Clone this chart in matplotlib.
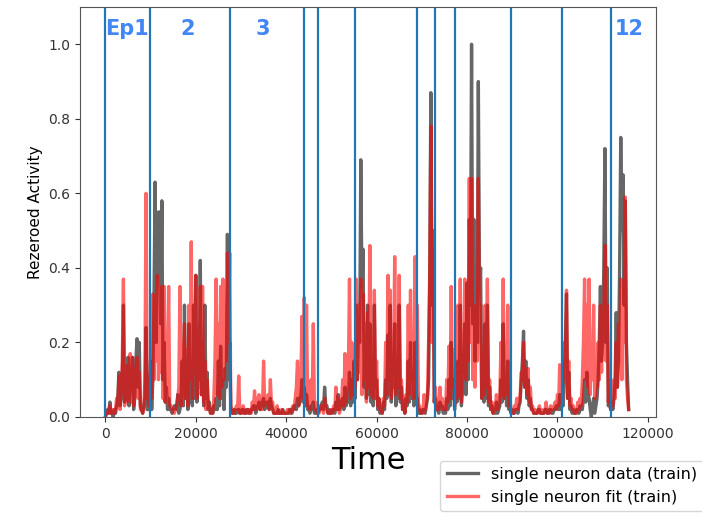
import matplotlib
matplotlib.use("Agg")
import matplotlib.pyplot as plt
import numpy as np

# activity sampled every 250 time steps, one row = 5000 steps
dt = 250
data_train = [
    0.00, 0.01, 0.02, 0.01, 0.04, 0.01, 0.01, 0.00, 0.02, 0.01, 0.03, 0.05, 0.12, 0.03, 0.05, 0.08, 0.30, 0.04, 0.05, 0.10,
    0.16, 0.03, 0.10, 0.12, 0.16, 0.02, 0.05, 0.15, 0.21, 0.08, 0.20, 0.03, 0.02, 0.01, 0.03, 0.05, 0.24, 0.02, 0.02, 0.05,
    0.15, 0.02, 0.10, 0.30, 0.63, 0.20, 0.45, 0.55, 0.55, 0.25, 0.58, 0.10, 0.20, 0.04, 0.08, 0.02, 0.05, 0.02, 0.02, 0.01,
    0.02, 0.03, 0.03, 0.02, 0.06, 0.01, 0.02, 0.05, 0.15, 0.03, 0.30, 0.05, 0.10, 0.02, 0.25, 0.04, 0.12, 0.03, 0.30, 0.05,
    0.38, 0.04, 0.15, 0.10, 0.42, 0.06, 0.20, 0.03, 0.30, 0.05, 0.12, 0.02, 0.04, 0.01, 0.02, 0.01, 0.03, 0.02, 0.05, 0.02,
    0.15, 0.03, 0.19, 0.05, 0.10, 0.02, 0.13, 0.08, 0.49, 0.10, 0.20, 0.02, 0.01, 0.01, 0.02, 0.01, 0.01, 0.02, 0.02, 0.01,
    0.01, 0.02, 0.02, 0.01, 0.01, 0.02, 0.02, 0.01, 0.01, 0.02, 0.02, 0.03, 0.03, 0.01, 0.02, 0.03, 0.04, 0.02, 0.03, 0.04,
    0.05, 0.02, 0.03, 0.04, 0.04, 0.02, 0.05, 0.03, 0.02, 0.01, 0.01, 0.01, 0.01, 0.02, 0.01, 0.01, 0.01, 0.02, 0.01, 0.01,
    0.01, 0.01, 0.01, 0.02, 0.02, 0.01, 0.02, 0.03, 0.03, 0.02, 0.05, 0.03, 0.04, 0.06, 0.10, 0.04, 0.08, 0.03, 0.06, 0.02,
    0.02, 0.01, 0.03, 0.02, 0.04, 0.01, 0.02, 0.01, 0.01, 0.02, 0.02, 0.03, 0.04, 0.02, 0.08, 0.03, 0.03, 0.01, 0.02, 0.01,
    0.01, 0.02, 0.02, 0.01, 0.04, 0.02, 0.06, 0.02, 0.03, 0.04, 0.05, 0.02, 0.08, 0.03, 0.05, 0.04, 0.12, 0.03, 0.10, 0.04,
    0.15, 0.05, 0.30, 0.10, 0.25, 0.20, 0.69, 0.35, 0.45, 0.08, 0.20, 0.05, 0.30, 0.06, 0.25, 0.04, 0.12, 0.03, 0.30, 0.05,
    0.10, 0.02, 0.05, 0.01, 0.02, 0.01, 0.04, 0.02, 0.10, 0.05, 0.22, 0.06, 0.30, 0.04, 0.10, 0.08, 0.25, 0.03, 0.12, 0.05,
    0.30, 0.04, 0.08, 0.02, 0.03, 0.01, 0.05, 0.03, 0.15, 0.04, 0.20, 0.05, 0.10, 0.03, 0.20, 0.06, 0.05, 0.01, 0.02, 0.01,
    0.01, 0.02, 0.02, 0.01, 0.03, 0.05, 0.10, 0.40, 0.87, 0.30, 0.50, 0.04, 0.05, 0.02, 0.02, 0.01, 0.04, 0.02, 0.03, 0.01,
    0.02, 0.01, 0.05, 0.02, 0.10, 0.03, 0.20, 0.05, 0.10, 0.02, 0.08, 0.04, 0.15, 0.05, 0.30, 0.03, 0.07, 0.10, 0.25, 0.06,
    0.36, 0.10, 0.53, 0.30, 1.00, 0.25, 0.53, 0.15, 0.30, 0.20, 0.90, 0.35, 0.40, 0.05, 0.12, 0.04, 0.25, 0.05, 0.30, 0.03,
    0.08, 0.02, 0.03, 0.01, 0.02, 0.01, 0.04, 0.01, 0.02, 0.03, 0.10, 0.04, 0.25, 0.05, 0.10, 0.03, 0.15, 0.02, 0.03, 0.01,
    0.02, 0.01, 0.01, 0.02, 0.02, 0.01, 0.03, 0.04, 0.10, 0.15, 0.23, 0.08, 0.15, 0.05, 0.10, 0.03, 0.05, 0.02, 0.02, 0.01,
    0.01, 0.01, 0.01, 0.02, 0.02, 0.01, 0.01, 0.01, 0.01, 0.02, 0.02, 0.01, 0.01, 0.02, 0.02, 0.01, 0.01, 0.02, 0.02, 0.03,
    0.03, 0.02, 0.06, 0.02, 0.04, 0.03, 0.10, 0.20, 0.33, 0.05, 0.12, 0.02, 0.03, 0.01, 0.02, 0.01, 0.01, 0.02, 0.02, 0.01,
    0.03, 0.02, 0.02, 0.05, 0.10, 0.04, 0.12, 0.06, 0.05, 0.02, 0.00, 0.03, 0.05, 0.01, 0.03, 0.05, 0.10, 0.20, 0.35, 0.15,
    0.20, 0.40, 0.72, 0.20, 0.40, 0.03, 0.05, 0.02, 0.04, 0.02, 0.05, 0.10, 0.28, 0.08, 0.15, 0.40, 0.75, 0.50, 0.65, 0.30,
    0.58, 0.20, 0.10, 0.02,
]
fit_train = [
    0.00, 0.01, 0.01, 0.02, 0.03, 0.01, 0.02, 0.01, 0.01, 0.02, 0.05, 0.03, 0.11, 0.02, 0.08, 0.15, 0.37, 0.03, 0.10, 0.04,
    0.14, 0.05, 0.17, 0.04, 0.16, 0.03, 0.10, 0.12, 0.16, 0.05, 0.12, 0.02, 0.02, 0.01, 0.02, 0.10, 0.60, 0.05, 0.05, 0.03,
    0.12, 0.05, 0.33, 0.10, 0.30, 0.15, 0.38, 0.10, 0.25, 0.12, 0.35, 0.05, 0.35, 0.04, 0.10, 0.15, 0.35, 0.03, 0.03, 0.02,
    0.02, 0.01, 0.02, 0.03, 0.05, 0.08, 0.35, 0.03, 0.08, 0.15, 0.25, 0.05, 0.18, 0.03, 0.30, 0.10, 0.47, 0.05, 0.15, 0.20,
    0.38, 0.05, 0.20, 0.08, 0.35, 0.06, 0.35, 0.04, 0.15, 0.02, 0.10, 0.03, 0.03, 0.01, 0.02, 0.01, 0.05, 0.15, 0.37, 0.06,
    0.25, 0.05, 0.35, 0.08, 0.37, 0.10, 0.30, 0.15, 0.44, 0.20, 0.44, 0.03, 0.02, 0.01, 0.01, 0.02, 0.03, 0.02, 0.11, 0.01,
    0.02, 0.01, 0.03, 0.01, 0.02, 0.01, 0.01, 0.02, 0.02, 0.01, 0.04, 0.02, 0.07, 0.02, 0.03, 0.05, 0.06, 0.02, 0.04, 0.02,
    0.15, 0.03, 0.04, 0.05, 0.06, 0.02, 0.10, 0.03, 0.04, 0.01, 0.02, 0.01, 0.03, 0.01, 0.01, 0.01, 0.02, 0.01, 0.01, 0.01,
    0.01, 0.02, 0.02, 0.01, 0.01, 0.02, 0.03, 0.02, 0.05, 0.08, 0.15, 0.03, 0.07, 0.10, 0.27, 0.05, 0.32, 0.06, 0.30, 0.03,
    0.05, 0.02, 0.10, 0.04, 0.25, 0.02, 0.04, 0.01, 0.02, 0.01, 0.03, 0.02, 0.03, 0.01, 0.05, 0.02, 0.02, 0.01, 0.01, 0.01,
    0.02, 0.01, 0.03, 0.02, 0.08, 0.02, 0.05, 0.01, 0.02, 0.04, 0.10, 0.03, 0.17, 0.04, 0.08, 0.12, 0.37, 0.05, 0.20, 0.06,
    0.17, 0.08, 0.37, 0.10, 0.30, 0.12, 0.37, 0.06, 0.33, 0.10, 0.25, 0.04, 0.28, 0.08, 0.46, 0.06, 0.20, 0.05, 0.34, 0.08,
    0.15, 0.03, 0.05, 0.02, 0.03, 0.01, 0.05, 0.03, 0.20, 0.06, 0.38, 0.10, 0.34, 0.05, 0.15, 0.12, 0.43, 0.06, 0.20, 0.08,
    0.38, 0.05, 0.10, 0.02, 0.04, 0.01, 0.06, 0.04, 0.30, 0.06, 0.34, 0.10, 0.15, 0.05, 0.43, 0.10, 0.30, 0.02, 0.03, 0.01,
    0.02, 0.01, 0.06, 0.02, 0.04, 0.06, 0.20, 0.35, 0.78, 0.20, 0.45, 0.04, 0.08, 0.02, 0.03, 0.02, 0.08, 0.03, 0.05, 0.02,
    0.03, 0.02, 0.10, 0.04, 0.19, 0.05, 0.35, 0.08, 0.18, 0.03, 0.12, 0.05, 0.30, 0.06, 0.37, 0.04, 0.20, 0.12, 0.37, 0.10,
    0.33, 0.15, 0.64, 0.20, 0.64, 0.10, 0.30, 0.08, 0.25, 0.15, 0.64, 0.20, 0.30, 0.05, 0.10, 0.06, 0.30, 0.08, 0.37, 0.04,
    0.10, 0.02, 0.04, 0.01, 0.03, 0.02, 0.06, 0.02, 0.03, 0.05, 0.20, 0.06, 0.37, 0.05, 0.15, 0.06, 0.30, 0.03, 0.05, 0.01,
    0.02, 0.01, 0.03, 0.02, 0.05, 0.02, 0.04, 0.06, 0.12, 0.10, 0.20, 0.08, 0.13, 0.06, 0.13, 0.04, 0.08, 0.02, 0.03, 0.01,
    0.02, 0.01, 0.01, 0.02, 0.03, 0.01, 0.02, 0.01, 0.01, 0.02, 0.04, 0.01, 0.02, 0.01, 0.03, 0.02, 0.02, 0.03, 0.04, 0.02,
    0.06, 0.03, 0.14, 0.04, 0.08, 0.10, 0.20, 0.15, 0.34, 0.05, 0.15, 0.03, 0.05, 0.02, 0.03, 0.01, 0.02, 0.01, 0.04, 0.02,
    0.05, 0.03, 0.10, 0.20, 0.37, 0.10, 0.30, 0.08, 0.37, 0.06, 0.20, 0.10, 0.30, 0.05, 0.10, 0.08, 0.20, 0.10, 0.30, 0.12,
    0.28, 0.25, 0.46, 0.15, 0.30, 0.04, 0.10, 0.02, 0.06, 0.03, 0.10, 0.05, 0.20, 0.08, 0.25, 0.15, 0.37, 0.10, 0.35, 0.20,
    0.59, 0.10, 0.05, 0.02,
]

# episode boundaries
ep_starts = [0, 9800, 27600, 44000, 47100, 55300, 69000, 72900, 77400, 89700, 101100, 111800]
ep_labels = ["Ep1", "2", "3", "12"]
ep_label_x = [4900, 18100, 34900, 115900]

t = np.arange(len(data_train)) * dt

fig = plt.figure(figsize=(7.02, 5.18), dpi=100)
ax = fig.add_axes([0.114, 0.195, 0.8205, 0.7915])

l1, = ax.plot(t, data_train, color="k", alpha=0.6, lw=2.4, label="single neuron data (train)")
l2, = ax.plot(t, fit_train, color="r", alpha=0.6, lw=2.4, label="single neuron fit (train)")

for x in ep_starts:
    ax.axvline(x, color="#1f77b4", lw=1.6)

for lab, x in zip(ep_labels, ep_label_x):
    ax.text(x, 1.04, lab, color="#4285f4", fontsize=15, fontweight="bold",
            ha="center", va="center")

ax.set_xlim(-5600, 121800)
ax.set_ylim(0, 1.1)
ax.set_yticks([0.0, 0.2, 0.4, 0.6, 0.8, 1.0])
ax.set_xticks([0, 20000, 40000, 60000, 80000, 100000, 120000])
ax.tick_params(labelsize=10, colors="#333333")
for s in ax.spines.values():
    s.set_color("#555555")
ax.set_xlabel("Time", fontsize=22, labelpad=4)
ax.set_ylabel("Rezeroed Activity", fontsize=11)

fig.legend(handles=[l1, l2], loc="upper left", bbox_to_anchor=(0.627, 0.111),
           fontsize=11.5, frameon=True, handlelength=2.0, borderaxespad=0)

fig.savefig("out.png", dpi=100)
